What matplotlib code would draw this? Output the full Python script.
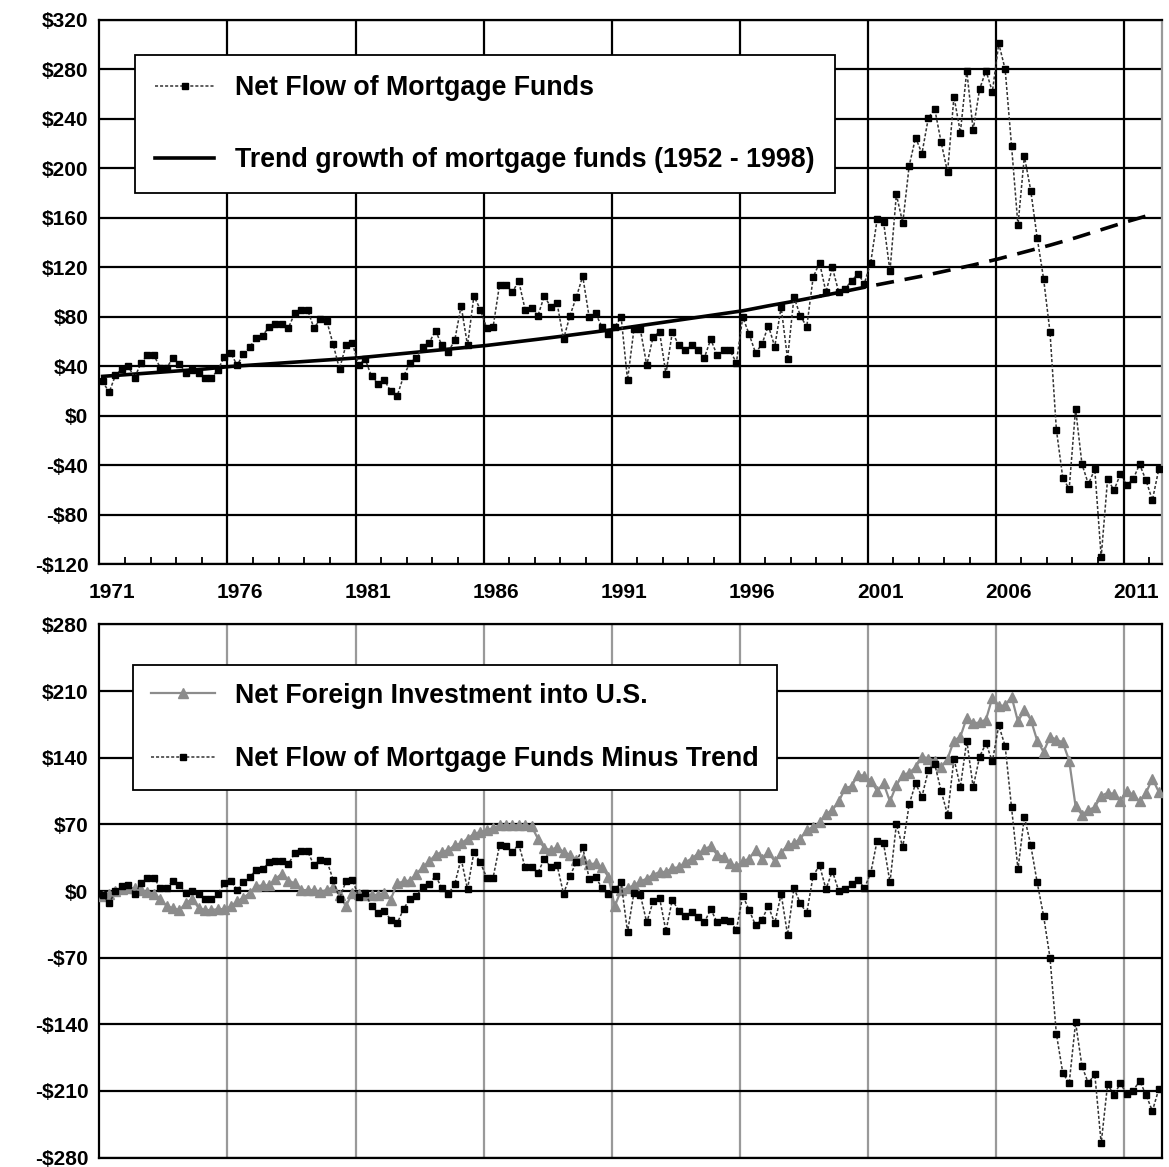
import numpy as np
import matplotlib.pyplot as plt

plt.rcParams['font.family'] = ['Liberation Sans', 'DejaVu Sans']
plt.rcParams['font.weight'] = 'bold'

# quarterly data, 1971Q1 - 2012Q2 (billions of dollars)
net_flow = [28, 19, 33, 38, 40, 31, 43, 49, 49, 39, 39, 47, 42, 35, 37, 35,
            31, 31, 37, 48, 51, 41, 50, 56, 63, 65, 72, 74, 74, 71, 83, 86,
            86, 71, 78, 77, 58, 38, 57, 59, 41, 46, 32, 26, 29, 20, 16, 32,
            43, 47, 56, 59, 69, 57, 52, 61, 89, 57, 97, 86, 71, 72, 106, 106,
            100, 109, 86, 87, 81, 97, 88, 91, 62, 81, 96, 113, 80, 83, 72, 66,
            72, 80, 29, 70, 70, 41, 64, 68, 34, 68, 57, 53, 57, 53, 47, 62,
            49, 53, 53, 43, 80, 66, 51, 58, 73, 56, 88, 46, 96, 81, 72, 112,
            124, 100, 120, 100, 103, 109, 115, 107, 124, 159, 157, 117, 179, 156, 202, 225,
            212, 241, 248, 221, 197, 258, 229, 279, 231, 264, 279, 262, 301, 280, 218, 154,
            210, 182, 144, 111, 68, -11, -50, -59, 6, -39, -55, -43, -114, -51, -60, -47,
            -56, -51, -39, -52, -68, -43]

# trend growth of mortgage funds, read at the start of each year
trend_years = list(range(1971, 2013))
trend = [32, 33.5, 35, 36.5, 38, 40, 41.4, 42.8, 44.2, 45.6, 47, 49, 51, 53, 55, 57,
         59.5, 62, 64.6, 67.3, 70, 73, 76, 79, 82, 85, 89, 92.7, 96.7, 100.8, 105, 109,
         113, 117.5, 122, 127, 132.5, 138, 144, 150.5, 157, 163]

foreign_inv = [-5, -3, 0, 2, 3, 3, 1, -1, -3, -8, -16, -18, -20, -13, -8, -18,
               -20, -20, -19, -19, -16, -11, -7, -2, 5, 6, 6, 13, 18, 11, 8, 1,
               1, 1, -1, 1, 4, -4, -16, -2, -3, -4, -4, -4, -2, -9, 8, 10,
               11, 18, 25, 31, 38, 41, 43, 48, 50, 55, 60, 62, 64, 66, 69, 69,
               69, 69, 69, 68, 55, 45, 43, 46, 41, 38, 33, 34, 28, 29, 25, 15,
               -16, 1, 3, 6, 10, 13, 17, 20, 20, 24, 25, 30, 34, 39, 44, 47,
               38, 36, 29, 26, 31, 34, 43, 34, 41, 31, 40, 48, 50, 55, 64, 67,
               72, 81, 85, 94, 108, 110, 122, 121, 116, 105, 113, 94, 111, 122, 124, 130,
               141, 139, 137, 130, 139, 158, 162, 182, 176, 177, 180, 203, 194, 195, 204, 178,
               190, 180, 158, 146, 162, 159, 156, 137, 89, 80, 85, 88, 100, 103, 102, 95,
               105, 101, 94, 103, 118, 104]

minus_trend = [-4, -13, 0, 5, 6, -3, 8, 14, 14, 3, 3, 11, 6, -2, 0, -3,
               -8, -8, -3, 8, 11, 1, 9, 15, 22, 23, 30, 32, 31, 28, 40, 42,
               42, 27, 33, 32, 12, -8, 10, 12, -6, -2, -16, -23, -21, -30, -34, -19,
               -8, -5, 4, 7, 16, 3, -3, 7, 34, 2, 41, 30, 14, 14, 48, 47,
               41, 49, 25, 25, 19, 34, 25, 27, -3, 16, 30, 46, 13, 15, 3, -3,
               2, 9, -43, -2, -4, -33, -11, -7, -42, -9, -21, -26, -22, -27, -33, -19,
               -33, -30, -31, -41, -5, -20, -36, -30, -16, -34, -3, -46, 3, -13, -23, 16,
               27, 2, 21, 0, 2, 7, 12, 3, 19, 53, 50, 9, 70, 46, 91, 113,
               99, 127, 133, 105, 80, 139, 109, 158, 109, 141, 155, 136, 174, 152, 88, 23,
               78, 48, 9, -26, -70, -150, -191, -202, -138, -184, -202, -192, -265, -203, -214, -202,
               -213, -210, -199, -214, -231, -208]

x_q = 1971 + (np.arange(len(net_flow)) + 0.5) / 4.0
x_t = np.array(trend_years) + 0.125
grid_years = list(range(1976, 2012, 5))
label_years = list(range(1971, 2012, 5))

dot_style = dict(color='#333333', lw=1.1, linestyle=(0, (2, 1.3)),
                 marker='s', markersize=5, markerfacecolor='black',
                 markeredgecolor='black')

fig = plt.figure(figsize=(11.69, 11.67), dpi=100)

# ---------------- top panel ----------------
ax1 = fig.add_axes([0.0851, 0.5163, 0.9089, 0.4666])
l_net, = ax1.plot(x_q, net_flow, zorder=4, **dot_style)
solid_end = trend_years.index(1999) + 1
l_trend, = ax1.plot(x_t[:solid_end], trend[:solid_end], color='black', lw=2.6, zorder=3)
ax1.plot(x_t[solid_end - 1:], trend[solid_end - 1:], color='black', lw=2.6,
         linestyle=(0, (5, 3)), zorder=3)

ax1.set_xlim(1971, 2012.5)
ax1.set_ylim(-120, 320)
ax1.set_yticks(range(-120, 321, 40))
ax1.set_yticklabels([('-$%d' % -v) if v < 0 else ('$%d' % v) for v in range(-120, 321, 40)])
ax1.yaxis.grid(True, color='black', lw=1.6)
for g in grid_years:
    ax1.axvline(g, color='black', lw=1.6, zorder=1)
ax1.set_xticks([y + 0.5 for y in label_years])
ax1.set_xticklabels([str(y) for y in label_years])
ax1.set_xticks(range(1971, 2013), minor=True)
ax1.tick_params(axis='x', which='major', length=0, pad=13, labelsize=15)
ax1.tick_params(axis='x', which='minor', direction='in', length=5, width=1.3)
ax1.tick_params(axis='y', length=0, pad=8, labelsize=15)
for s in ax1.spines.values():
    s.set_linewidth(1.6)
ax1.spines['right'].set_color('#999999')

leg1 = ax1.legend([l_net, l_trend],
                  ['Net Flow of Mortgage Funds',
                   'Trend growth of mortgage funds (1952 - 1998)'],
                  loc='upper left', bbox_to_anchor=(0.0334, 0.9357), fontsize=19.3,
                  frameon=True, fancybox=False, edgecolor='black', framealpha=1,
                  borderpad=0.75, labelspacing=1.72, handlelength=2.2,
                  handletextpad=0.8, borderaxespad=0)
leg1.get_frame().set_linewidth(1.3)

# ---------------- bottom panel ----------------
ax2 = fig.add_axes([0.0851, 0.008, 0.9089, 0.457])
l_for, = ax2.plot(x_q, foreign_inv, color='#8c8c8c', lw=1.6, marker='^',
                  markersize=7, markerfacecolor='#8c8c8c', markeredgecolor='#8c8c8c',
                  zorder=3)
l_mt, = ax2.plot(x_q, minus_trend, zorder=4, **dot_style)

ax2.set_xlim(1971, 2012.5)
ax2.set_ylim(-280, 280)
ax2.set_yticks(range(-280, 281, 70))
ax2.set_yticklabels([('-$%d' % -v) if v < 0 else ('$%d' % v) for v in range(-280, 281, 70)])
ax2.yaxis.grid(True, color='black', lw=1.6)
for g in grid_years:
    ax2.axvline(g, color='#999999', lw=1.6, zorder=1)
ax2.set_xticks([])
ax2.tick_params(axis='y', length=0, pad=8, labelsize=15)
for s in ax2.spines.values():
    s.set_linewidth(1.6)

leg2 = ax2.legend([l_for, l_mt],
                  ['Net Foreign Investment into U.S.',
                   'Net Flow of Mortgage Funds Minus Trend'],
                  loc='upper left', bbox_to_anchor=(0.0315, 0.9237), fontsize=19.3,
                  frameon=True, fancybox=False, edgecolor='black', framealpha=1,
                  borderpad=0.66, labelspacing=1.4, handlelength=2.4,
                  handletextpad=0.75, borderaxespad=0)
leg2.get_frame().set_linewidth(1.3)

fig.savefig('out.png', dpi=100)
